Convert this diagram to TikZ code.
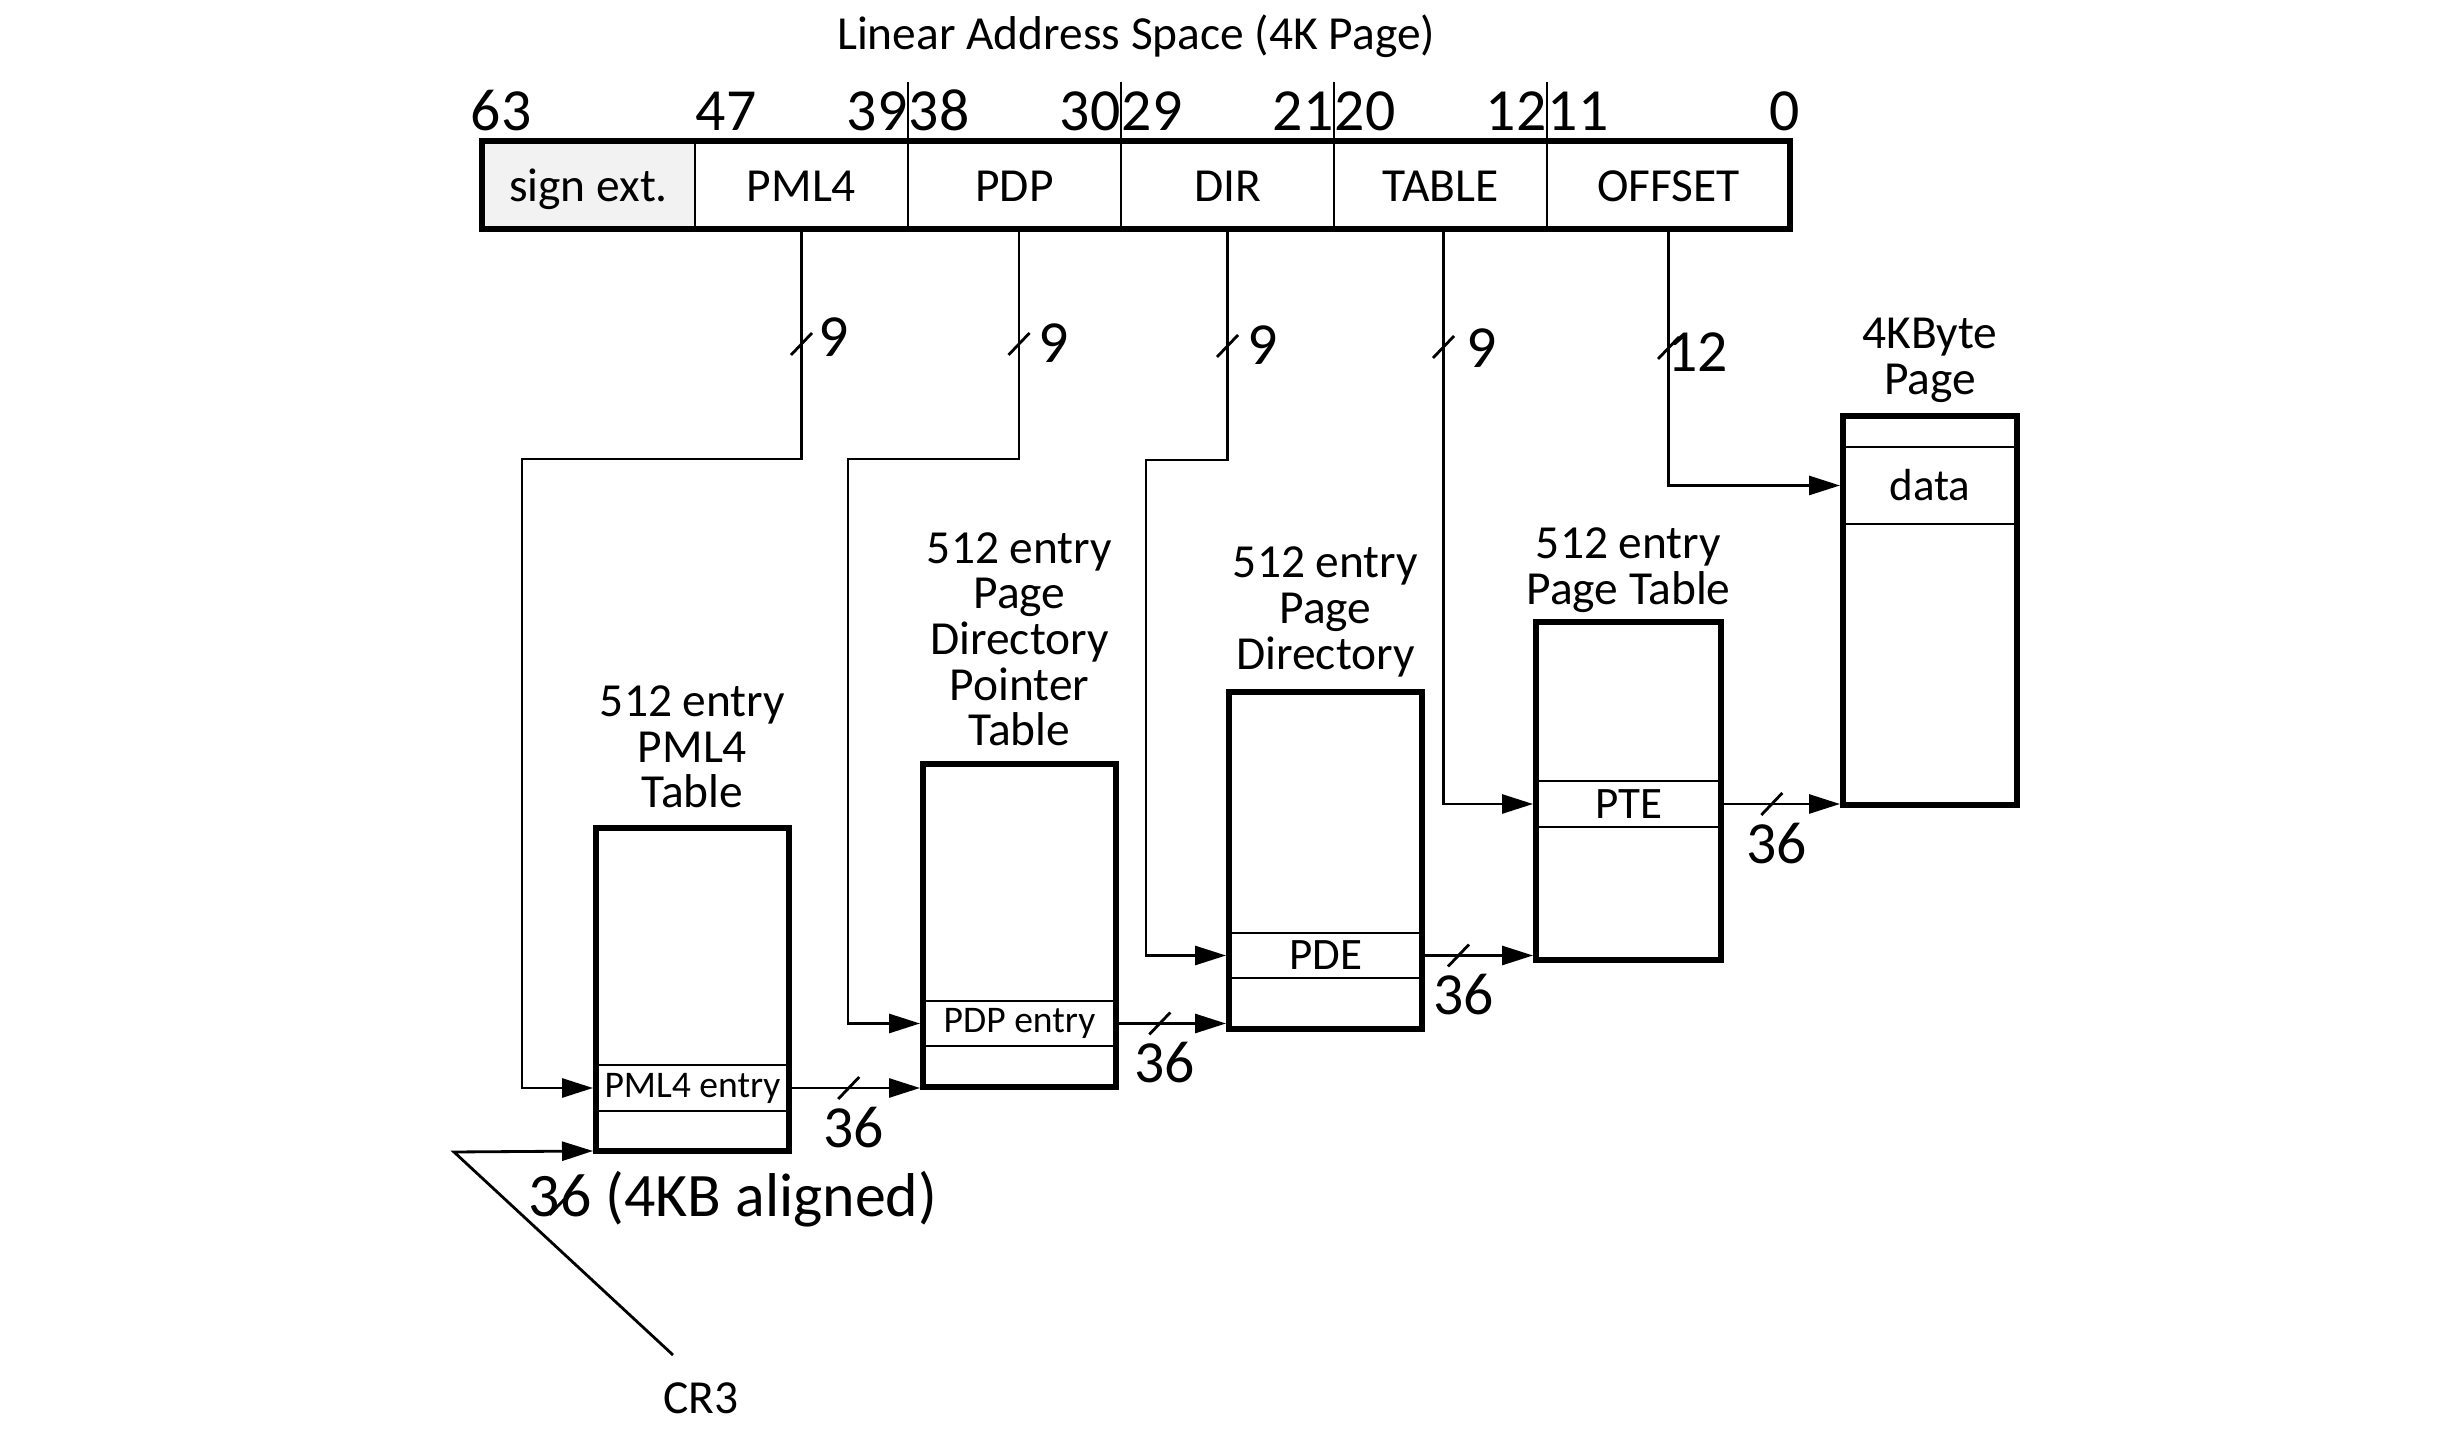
\documentclass[tikz,border=0pt]{standalone}
\usepackage{fontspec}
\setmainfont{Carlito}
\usetikzlibrary{arrows.meta,positioning}
\definecolor{SignGray}{HTML}{F2F2F2}

\newcommand{\FieldFont}{\fontsize{13.5}{16}\selectfont}
\newcommand{\NumFont}{\fontsize{17}{20}\selectfont}
\newcommand{\HeadFont}{\fontsize{13.5}{13}\selectfont}
\newcommand{\EntryFont}{\fontsize{10.7}{13}\selectfont}
\newcommand{\CellFont}{\fontsize{12.8}{15}\selectfont}

\begin{document}
\begin{tikzpicture}[
  >={Triangle[length=3.1mm,width=1.9mm]},
  link/.style={line width=0.8pt},
  slash mark/.style={line width=0.8pt},
  divider/.style={line width=0.8pt},
  field/.style={draw,line width=0.8pt,outer sep=0pt,inner sep=0pt,
    minimum width=2.13cm,minimum height=0.88cm,
    text height=0.42cm,text depth=0.08cm,font=\FieldFont},
  bar frame/.style={draw,line width=1.8pt},
  tablebox/.style={draw,fill=white,line width=1.7pt,inner sep=0pt},
  entryrow/.style={draw,line width=0.8pt,inner sep=0pt},
  heading/.style={align=center,inner sep=0pt,font=\HeadFont},
  bitnum/.style={inner sep=0pt,font=\NumFont},
  busnum/.style={inner sep=0pt,font=\NumFont},
  every node/.style={text=black}
]

\fill[white] (0,0) rectangle (24.39,14.43);
\useasboundingbox (0,0) rectangle (24.39,14.43);

% Short slash across a bus line, optional size factor.
\newcommand{\BusSlash}[2][1]{%
  \draw[slash mark] ([shift={(-0.105*#1,-0.11*#1)}]#2)
    -- ([shift={(0.105*#1,0.11*#1)}]#2);%
}

\node[font=\FieldFont,anchor=base] (addrtitle) at (11.36,13.93)
  {Linear Address Space (4K Page)};

% Linear address fields.
\node[field,fill=SignGray] (sign) at (5.885,12.58) {sign ext.};
\node[field,right=0pt of sign] (pml4f) {PML4};
\node[field,right=0pt of pml4f] (pdpf) {PDP};
\node[field,right=0pt of pdpf] (dirf) {DIR};
\node[field,right=0pt of dirf] (tablef) {TABLE};
\node[field,right=0pt of tablef,minimum width=2.43cm] (offsetf) {OFFSET};
\draw[bar frame] (sign.north west) rectangle (offsetf.south east);

\foreach \f in {pml4f,pdpf,dirf,tablef}
  \draw[divider] (\f.north east) -- ++(0,0.59);

% Bit numbers.
\foreach \f/\b/\dx in {sign/63/-0.12,pml4f/47/0,pdpf/38/0,dirf/29/0,tablef/20/0,offsetf/11/0}
  \node[bitnum,anchor=base west] (hi\b) at ([shift={(\dx,0.1)}]\f.north west) {\b};
\foreach \f/\b/\dx in {pml4f/39/0,pdpf/30/0,dirf/21/0,tablef/12/0,offsetf/0/0.1}
  \node[bitnum,anchor=base east] (lo\b) at ([shift={(\dx,0.1)}]\f.north east) {\b};

% Tables, each with its selected entry.
\node[tablebox,minimum width=1.93cm,minimum height=3.23cm] (pml4) at (6.925,4.535) {};
\node[entryrow,minimum width=1.93cm,minimum height=0.46cm,font=\EntryFont]
  (pml4e) at (6.925,3.55) {PML4 entry};
\node[heading,above=0.16cm of pml4] (pml4h) {512 entry\\PML4\\Table};

\node[tablebox,minimum width=1.93cm,minimum height=3.23cm] (pdp) at (10.195,5.175) {};
\node[entryrow,minimum width=1.93cm,minimum height=0.45cm,font=\EntryFont]
  (pdpe) at (10.195,4.195) {PDP entry};
\node[heading,above=0.14cm of pdp] (pdph)
  {512 entry\\Page\\Directory\\Pointer\\Table};

\node[tablebox,minimum width=1.93cm,minimum height=3.37cm] (pd) at (13.255,5.825) {};
\node[entryrow,minimum width=1.93cm,minimum height=0.45cm,font=\CellFont]
  (pde) at (13.255,4.875) {PDE};
\node[heading,above=0.115cm of pd] (pdh) {512 entry\\Page\\Directory};

\node[tablebox,minimum width=1.85cm,minimum height=3.38cm] (pt) at (16.285,6.52) {};
\node[entryrow,minimum width=1.85cm,minimum height=0.46cm,font=\CellFont]
  (pte) at (16.285,6.39) {PTE};
\node[heading,above=0.06cm of pt] (pth) {512 entry\\Page Table};

\node[tablebox,minimum width=1.74cm,minimum height=3.89cm] (page) at (19.30,8.325) {};
\node[entryrow,minimum width=1.74cm,minimum height=0.77cm,font=\CellFont]
  (data) at (19.30,9.575) {data};
\node[heading,above=0.095cm of page] (pageh) {4KByte\\Page};

% Index fields into the tables.
\coordinate (srcpml4) at (pml4f.south);
\coordinate (srcpdp) at ([xshift=0.045cm]pdpf.south);
\coordinate (srcdir) at (dirf.south);
\coordinate (srctable) at ([xshift=0.03cm]tablef.south);
\coordinate (srcoffset) at (offsetf.south);
\coordinate (jogpml4) at (5.22,9.84);
\coordinate (jogpdp) at (8.48,9.84);
\coordinate (jogdir) at (11.46,9.83);
\draw[link,->] (srcpml4) |- (jogpml4) |- (pml4e -| pml4.west);
\draw[link,->] (srcpdp) |- (jogpdp) |- (pdpe -| pdp.west);
\draw[link,->] (srcdir) |- (jogdir) |- (pde -| pd.west);
\draw[link,->] (srctable) |- (pte -| pt.west);
\draw[link,->] (srcoffset) |- (data -| page.west);

\foreach \f/\y/\dx/\dy/\w in {pml4/10.99/0.32/0.07/9,pdp/10.99/0.35/0.01/9,
    dir/10.97/0.35/0.01/9,table/10.96/0.38/-0.01/9,offset/10.95/0.29/-0.04/12} {
  \coordinate (bus\f) at (src\f |- 0,\y);
  \BusSlash{bus\f}
  \node[busnum] (w\f) at ([shift={(\dx,\dy)}]bus\f) {\w};
}

% Entry to next table, 36 bits each.
\draw[link,->] (pml4e.east) -- coordinate[pos=0.45] (busa) (pml4e -| pdp.west);
\draw[link,->] (pdpe.east) -- coordinate[pos=0.39] (busb) (pdpe -| pd.west);
\draw[link,->] (pde.east) -- coordinate[pos=0.32] (busc) (pde -| pt.west);
\draw[link,->] (pte.east) -- coordinate[pos=0.42] (busd) (pte -| page.west);
\foreach \b in {a,b,c,d} {
  \BusSlash{bus\b}
  \node[busnum,below=0.18cm of bus\b,xshift=0.05cm] (w\b) {36};
}

% CR3 base pointer.
\node[font=\FieldFont] (cr3) at (7.01,0.45) {CR3};
\coordinate (cr3end) at (6.73,0.88);
\coordinate (cr3bend) at (4.54,2.91);
\draw[link,->] (cr3end) -- (cr3bend) -- ([yshift=0.03cm]pml4.south west);
\node[font=\fontsize{17.6}{20}\selectfont,anchor=base] (aligned) at (7.33,2.27)
  {36 (4KB aligned)};
\coordinate (buscr3) at (5.57,2.36);
\BusSlash[0.7]{buscr3}

\end{tikzpicture}
\end{document}
